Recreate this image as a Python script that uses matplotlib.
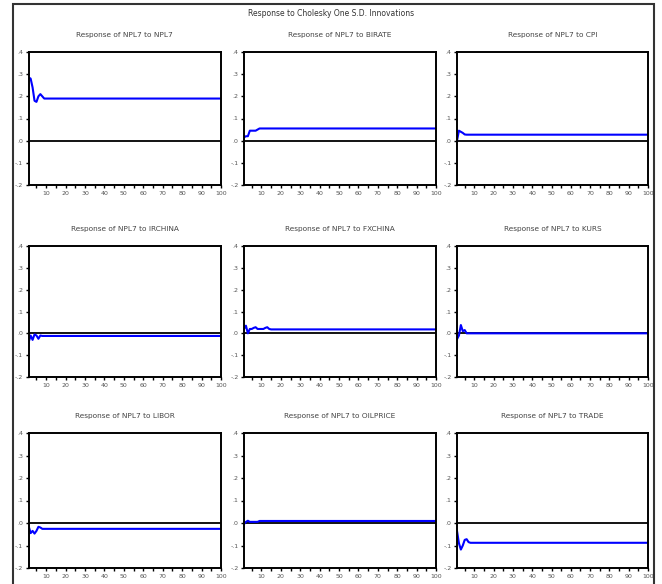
import matplotlib.pyplot as plt
from matplotlib.patches import Rectangle
from matplotlib.ticker import FuncFormatter, MultipleLocator

# impulse responses: first periods, then the flat long-run level
titles = ['Response of NPL7 to NPL7', 'Response of NPL7 to BIRATE', 'Response of NPL7 to CPI',
          'Response of NPL7 to IRCHINA', 'Response of NPL7 to FXCHINA', 'Response of NPL7 to KURS',
          'Response of NPL7 to LIBOR', 'Response of NPL7 to OILPRICE', 'Response of NPL7 to TRADE']
early = [
    [0.285, 0.28, 0.24, 0.18, 0.175, 0.20, 0.21, 0.20, 0.19],
    [0.015, 0.02, 0.02, 0.045, 0.045, 0.045, 0.045, 0.05, 0.055],
    [0.0, 0.045, 0.04, 0.035, 0.028, 0.027],
    [-0.04, -0.01, -0.03, -0.005, -0.01, -0.025, -0.01, -0.012],
    [0.02, 0.035, 0.0, 0.02, 0.02, 0.025, 0.028, 0.02, 0.02, 0.02, 0.02, 0.025, 0.028, 0.02],
    [-0.027, -0.01, 0.038, 0.01, 0.015, 0.0],
    [-0.015, -0.045, -0.035, -0.047, -0.035, -0.017, -0.02, -0.026],
    [-0.005, 0.005, 0.01, 0.005, 0.005, 0.005, 0.005, 0.005, 0.009],
    [-0.035, -0.09, -0.118, -0.1, -0.075, -0.072, -0.085, -0.088],
]
longrun = [0.19, 0.055, 0.027, -0.012, 0.018, 0.0, -0.026, 0.009, -0.088]
periods = list(range(1, 101))

W, H = 662, 584
fig = plt.figure(figsize=(W / 100, H / 100), dpi=100)

# outer frame
fig.patches.append(Rectangle((13 / W, -0.05), (654 - 13) / W, 1.05 - 4 / H,
                             transform=fig.transFigure, fill=False, lw=1.5, ec='#333333'))
fig.text(0.5, 1 - 13 / H, 'Response to Cholesky One S.D. Innovations',
         ha='center', va='center', fontsize=5.5, color='#333333')

lefts = [28.7, 244, 457]
rights = [221, 436, 648]
tops = [52, 246, 433]
bottoms = [185, 377, 568]

fmt = FuncFormatter(lambda v, p: ('-' if v < -1e-9 else '') + ('%.1f' % abs(v))[1:])

for i in range(9):
    r, c = divmod(i, 3)
    ax = fig.add_axes([lefts[c] / W, 1 - bottoms[r] / H,
                       (rights[c] - lefts[c]) / W, (bottoms[r] - tops[r]) / H])
    vals = early[i] + [longrun[i]] * (100 - len(early[i]))
    ax.axhline(0, color='black', lw=1.3)
    ax.plot(periods, vals, color='#0000ff', lw=1.5)
    ax.set_xlim(1, 100)
    ax.set_ylim(-0.2, 0.4)
    ax.yaxis.set_major_locator(MultipleLocator(0.1))
    ax.yaxis.set_major_formatter(fmt)
    ax.xaxis.set_major_locator(MultipleLocator(10))
    ax.xaxis.set_minor_locator(MultipleLocator(5))
    ax.tick_params(axis='both', labelsize=4.5, colors='black', labelcolor='#555555',
                   width=1.0, length=2.5, pad=1.5)
    ax.tick_params(axis='x', which='minor', width=1.0, length=2.5)
    for s in ax.spines.values():
        s.set_linewidth(1.4)
    ax.set_title(titles[i], fontsize=5.3, color='#444444', pad=11)

fig.savefig('out.png', dpi=100)
